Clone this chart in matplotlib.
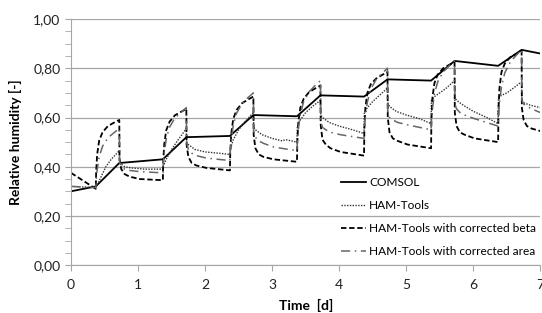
import matplotlib
matplotlib.use("Agg")
import matplotlib.pyplot as plt
from matplotlib.ticker import MultipleLocator, FuncFormatter

plt.rcParams['font.family'] = ['Lato', 'DejaVu Sans']

# COMSOL (solid)
t_comsol = [0, 0.37, 0.72, 1.37, 1.72, 2.37, 2.72, 3.37, 3.72, 4.37, 4.72, 5.37, 5.72, 6.37, 6.72, 7.0]
rh_comsol = [0.30, 0.32, 0.415, 0.43, 0.52, 0.525, 0.61, 0.605, 0.69, 0.685, 0.755, 0.75, 0.83, 0.81, 0.875, 0.86]

# HAM-Tools (dotted)
t_ham = [0, 0.37, 0.40, 0.45, 0.52, 0.60, 0.72,
         0.724, 0.75, 0.80, 0.90, 1.10, 1.37,
         1.375, 1.42, 1.50, 1.60, 1.72,
         1.724, 1.75, 1.85, 2.00, 2.20, 2.37,
         2.375, 2.42, 2.50, 2.60, 2.72,
         2.724, 2.75, 2.85, 3.00, 3.15, 3.20, 3.37,
         3.375, 3.42, 3.50, 3.60, 3.72,
         3.724, 3.75, 3.85, 4.00, 4.20, 4.37,
         4.375, 4.42, 4.50, 4.60, 4.72,
         4.724, 4.75, 4.85, 5.00, 5.20, 5.37,
         5.375, 5.42, 5.50, 5.60, 5.72,
         5.724, 5.75, 5.85, 6.00, 6.20, 6.37,
         6.375, 6.42, 6.50, 6.60, 6.72,
         6.724, 6.75, 6.85, 7.00]
rh_ham = [0.32, 0.315, 0.33, 0.36, 0.40, 0.43, 0.465,
          0.42, 0.41, 0.40, 0.395, 0.39, 0.39,
          0.40, 0.43, 0.47, 0.51, 0.555,
          0.50, 0.49, 0.47, 0.46, 0.455, 0.45,
          0.47, 0.51, 0.55, 0.585, 0.62,
          0.56, 0.55, 0.53, 0.515, 0.505, 0.51, 0.50,
          0.56, 0.59, 0.62, 0.645, 0.67,
          0.61, 0.60, 0.58, 0.565, 0.55, 0.535,
          0.62, 0.64, 0.665, 0.69, 0.72,
          0.66, 0.645, 0.625, 0.61, 0.595, 0.575,
          0.67, 0.685, 0.70, 0.72, 0.75,
          0.68, 0.67, 0.65, 0.625, 0.60, 0.575,
          0.68, 0.69, 0.70, 0.72, 0.745,
          0.67, 0.66, 0.65, 0.64]

# time points shared by the two corrected HAM-Tools runs
t_corr = [0, 0.37,
          0.375, 0.39, 0.42, 0.47, 0.55, 0.64, 0.72,
          0.724, 0.75, 0.80, 0.87, 1.02, 1.37,
          1.375, 1.39, 1.42, 1.47, 1.55, 1.64, 1.72,
          1.724, 1.75, 1.80, 1.87, 2.02, 2.37,
          2.375, 2.39, 2.42, 2.47, 2.55, 2.64, 2.72,
          2.724, 2.75, 2.80, 2.87, 3.02, 3.37,
          3.375, 3.39, 3.42, 3.47, 3.55, 3.64, 3.72,
          3.724, 3.75, 3.80, 3.87, 4.02, 4.37,
          4.375, 4.39, 4.42, 4.47, 4.55, 4.64, 4.72,
          4.724, 4.75, 4.80, 4.87, 5.02, 5.37,
          5.375, 5.39, 5.42, 5.47, 5.55, 5.64, 5.72,
          5.724, 5.75, 5.80, 5.87, 6.02, 6.37,
          6.375, 6.39, 6.42, 6.47, 6.55, 6.64, 6.72,
          6.724, 6.75, 6.80, 6.87, 7.00]

rh_beta = [0.375, 0.31,
           0.38, 0.45, 0.506, 0.54, 0.565, 0.579, 0.59,
           0.43, 0.39, 0.37, 0.36, 0.35, 0.345,
           0.417, 0.49, 0.548, 0.583, 0.609, 0.623, 0.635,
           0.49, 0.44, 0.415, 0.405, 0.395, 0.385,
           0.46, 0.535, 0.595, 0.631, 0.658, 0.673, 0.685,
           0.53, 0.475, 0.45, 0.44, 0.43, 0.42,
           0.50, 0.58, 0.64, 0.676, 0.703, 0.718, 0.73,
           0.57, 0.51, 0.49, 0.475, 0.46, 0.445,
           0.55, 0.64, 0.70, 0.735, 0.758, 0.773, 0.785,
           0.60, 0.54, 0.515, 0.505, 0.49, 0.475,
           0.59, 0.68, 0.74, 0.775, 0.80, 0.814, 0.825,
           0.62, 0.565, 0.54, 0.53, 0.515, 0.50,
           0.63, 0.72, 0.785, 0.82, 0.845, 0.858, 0.87,
           0.64, 0.59, 0.565, 0.555, 0.545]

rh_area = [0.32, 0.315,
           0.344, 0.387, 0.44, 0.483, 0.517, 0.538, 0.555,
           0.42, 0.40, 0.39, 0.385, 0.38, 0.375,
           0.407, 0.455, 0.513, 0.561, 0.598, 0.621, 0.64,
           0.50, 0.47, 0.455, 0.445, 0.435, 0.425,
           0.458, 0.508, 0.568, 0.618, 0.656, 0.681, 0.70,
           0.545, 0.52, 0.505, 0.495, 0.48, 0.465,
           0.499, 0.551, 0.613, 0.665, 0.704, 0.73, 0.75,
           0.585, 0.56, 0.55, 0.54, 0.53, 0.515,
           0.549, 0.601, 0.663, 0.715, 0.754, 0.78, 0.80,
           0.62, 0.60, 0.59, 0.58, 0.57, 0.55,
           0.584, 0.634, 0.696, 0.746, 0.785, 0.81, 0.83,
           0.655, 0.635, 0.62, 0.61, 0.595, 0.565,
           0.602, 0.658, 0.726, 0.782, 0.825, 0.853, 0.875,
           0.67, 0.655, 0.645, 0.635, 0.62]

labels = ["COMSOL", "HAM-Tools", "HAM-Tools with corrected beta", "HAM-Tools with corrected area"]

fig = plt.figure(figsize=(5.42, 3.13), dpi=100)
ax = fig.add_axes([0.131, 0.153, 0.866, 0.786])

ax.plot(t_comsol, rh_comsol, color="black", linewidth=1.3, label=labels[0])
ax.plot(t_ham, rh_ham, color="#333333", linewidth=1.0, linestyle=(0, (1, 1)), label=labels[1])
ax.plot(t_corr, rh_beta, color="black", linewidth=1.3, linestyle=(0, (3, 1.5)), label=labels[2])
ax.plot(t_corr, rh_area, color="#666666", linewidth=1.1, linestyle=(0, (6, 3, 1, 3)), label=labels[3])

ax.set_xlim(0, 7)
ax.set_ylim(0, 1)
ax.xaxis.set_major_locator(MultipleLocator(1))
ax.yaxis.set_major_locator(MultipleLocator(0.2))
ax.yaxis.set_minor_locator(MultipleLocator(0.05))
ax.yaxis.set_major_formatter(FuncFormatter(lambda v, p: f"{v:.2f}".replace(".", ",")))

ax.grid(axis="y", which="major", color="#a6a6a6", linewidth=0.9)
ax.set_axisbelow(True)
for s in ["top", "right"]:
    ax.spines[s].set_visible(False)
for s in ["left", "bottom"]:
    ax.spines[s].set_color("#a6a6a6")
ax.tick_params(axis="both", which="both", color="#a6a6a6", length=4, labelsize=10, labelcolor="#222222")
ax.tick_params(axis="x", pad=6)

ax.set_xlabel("Time  [d]", fontsize=10, fontweight="bold", labelpad=6)
ax.set_ylabel("Relative humidity [-]", fontsize=10, fontweight="bold", labelpad=8)

ax.legend(loc="upper left", bbox_to_anchor=(0.565, 0.378), frameon=False, fontsize=8.6,
          handlelength=2.1, handletextpad=0.25, labelspacing=1.0, borderaxespad=0)

fig.savefig("out.png", dpi=100)
